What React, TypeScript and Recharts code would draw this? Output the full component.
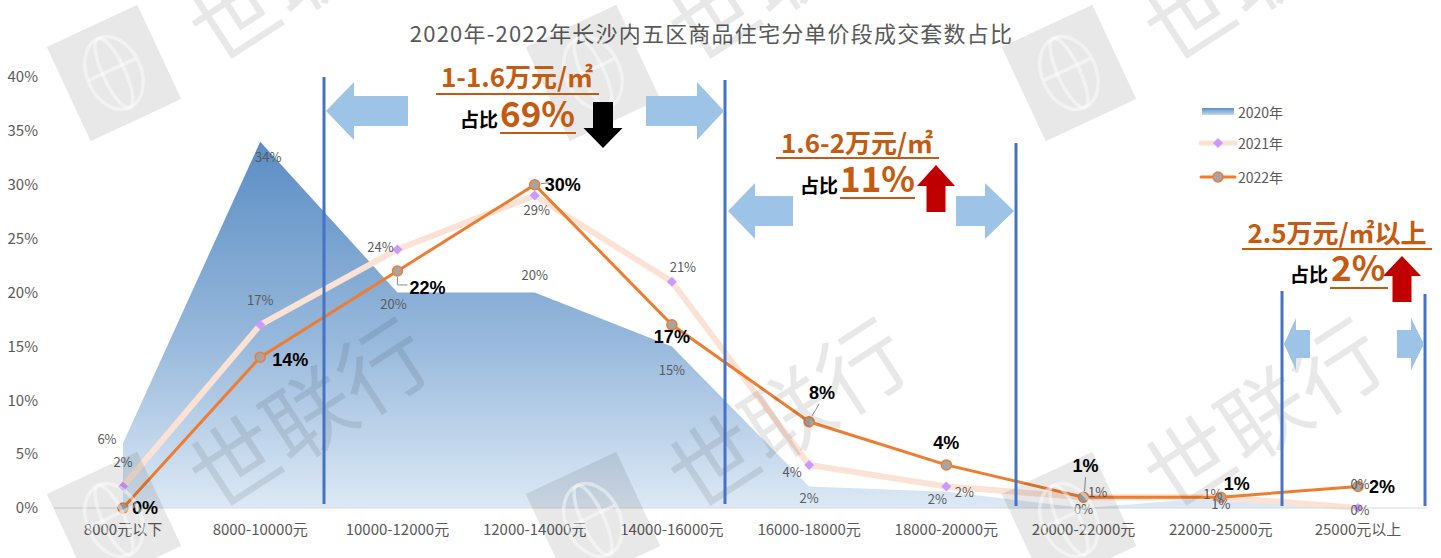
import React from "react";
import { ComposedChart, Area, Line, XAxis, YAxis, LabelList } from "recharts";

const categories = [
  "8000元以下",
  "8000-10000元",
  "10000-12000元",
  "12000-14000元",
  "14000-16000元",
  "16000-18000元",
  "18000-20000元",
  "20000-22000元",
  "22000-25000元",
  "25000元以上",
];
const share2020 = [6, 34, 20, 20, 15, 2, 1.5, 0, 1, 0];
const share2021 = [2, 17, 24, 29, 21, 4, 2, 1, 1, 0];
const share2022 = [0, 14, 22, 30, 17, 8, 4, 1, 1, 2];
const yTicks = [0, 5, 10, 15, 20, 25, 30, 35, 40];

const data = categories.map((name, i) => ({
  name,
  y2020: share2020[i],
  y2021: share2021[i],
  y2022: share2022[i],
}));

const CJK = '"Noto Sans CJK SC", "Noto Sans", sans-serif';
const NARROW = '"Liberation Sans Narrow", "Liberation Sans", Arial, sans-serif';
const ORANGE_TXT = "#c55a11";
const ARROW_BLUE = "#9dc3e6";
const LINE_BLUE = "#4472c4";
const WM = "rgba(0,0,0,0.09)";

// label offsets per point (dx, dy from the point)
const off2020 = [[-16, -5], [8, 15], [-4, 11], [0, -18], [0, 23], [0, 11], [-9, 7], [0, 0], [0, 6], [2, -25]];
const off2021 = [[0, -25], [0, -25], [-17, -3], [2, 14], [11, -15], [-17, 7], [18, 5], [14, -6], [-8, -4], [2, 1]];
const off2022 = [[22, 0], [30, 3], [30, 17], [28, 0], [0, 12], [13, -29], [0, -22], [2, -31], [16, -13], [24, 1]];
// small leader lines for some 2022 labels (relative to the point)
const leaders2022: Record<number, string> = {
  2: "0,6 0,14 10,14",
  3: "6,-1 14,-2",
  5: "3,-6 10,-18",
  7: "1,-6 2,-20",
};

const makeLabel = (offs: number[][], bold: boolean, leaders?: Record<number, string>) => (props: any) => {
  const { x, y, value, index } = props;
  const [dx, dy] = offs[index] || [0, 0];
  const lead = leaders && leaders[index];
  return (
    <g>
      {lead && (
        <polyline
          points={lead
            .split(" ")
            .map((p) => {
              const [a, b] = p.split(",").map(Number);
              return `${x + a},${y + b}`;
            })
            .join(" ")}
          fill="none"
          stroke="#8c8c8c"
          strokeWidth={1}
        />
      )}
      <text
        x={x + dx}
        y={y + dy}
        textAnchor="middle"
        dominantBaseline="central"
        fontFamily={bold ? NARROW : CJK}
        fontWeight={bold ? 700 : 400}
        fontSize={bold ? 18 : 13}
        fill={bold ? "#000" : "#595959"}
      >
        {`${Math.round(value)}%`}
      </text>
    </g>
  );
};

const Diamond = (props: any) => {
  const { cx, cy } = props;
  if (cx == null || cy == null) return null;
  return <polygon points={`${cx},${cy - 5} ${cx + 5},${cy} ${cx},${cy + 5} ${cx - 5},${cy}`} fill="#cc99ff" />;
};

const hArrow = (tipX: number, baseX: number, endX: number, cy: number, headH: number, shaftH: number) =>
  `${tipX},${cy} ${baseX},${cy - headH / 2} ${baseX},${cy - shaftH / 2} ${endX},${cy - shaftH / 2} ${endX},${cy + shaftH / 2} ${baseX},${cy + shaftH / 2} ${baseX},${cy + headH / 2}`;

const vArrow = (cx: number, tipY: number, baseY: number, endY: number, headW: number, shaftW: number) =>
  `${cx},${tipY} ${cx + headW / 2},${baseY} ${cx + shaftW / 2},${baseY} ${cx + shaftW / 2},${endY} ${cx - shaftW / 2},${endY} ${cx - shaftW / 2},${baseY} ${cx - headW / 2},${baseY}`;

function Watermarks() {
  const cols = [114, 593, 1069];
  const rows = [73, 520];
  const marks: JSX.Element[] = [];
  rows.forEach((ry, r) =>
    cols.forEach((cx, c) => {
      marks.push(
        <g key={`l${r}${c}`} transform={`translate(${cx},${ry}) rotate(-25)`}>
          <rect x={-50} y={-52} width={100} height={104} fill={WM} />
          <ellipse cx={0} cy={0} rx={27} ry={38} fill="none" stroke="rgba(255,255,255,0.45)" strokeWidth={3.5} />
          <ellipse cx={0} cy={0} rx={11} ry={38} fill="none" stroke="rgba(255,255,255,0.45)" strokeWidth={3.5} />
          <line x1={-26} y1={-4} x2={26} y2={-4} stroke="rgba(255,255,255,0.45)" strokeWidth={3.5} />
        </g>
      );
      const tx = cx + 192;
      const ty = ry - 110;
      marks.push(
        <text
          key={`w${r}${c}`}
          x={tx}
          y={ty}
          transform={`rotate(-33 ${tx} ${ty})`}
          textAnchor="middle"
          dominantBaseline="central"
          fontFamily={CJK}
          fontSize={88}
          fill={WM}
        >
          世联行
        </text>
      );
    })
  );
  return (
    <svg width={1441} height={558} style={{ position: "absolute", left: 0, top: 0, pointerEvents: "none" }}>
      {marks}
    </svg>
  );
}

function Annotations() {
  return (
    <svg width={1441} height={558} style={{ position: "absolute", left: 0, top: 0, pointerEvents: "none" }}>
      {/* vertical divider lines */}
      <line x1={324} y1={77} x2={324} y2={504} stroke={LINE_BLUE} strokeWidth={3} />
      <line x1={725} y1={80} x2={725} y2={504} stroke={LINE_BLUE} strokeWidth={3} />
      <line x1={1016} y1={143} x2={1016} y2={506} stroke={LINE_BLUE} strokeWidth={3} />
      <line x1={1282} y1={291} x2={1282} y2={506} stroke={LINE_BLUE} strokeWidth={3} />
      <line x1={1425} y1={294} x2={1425} y2={506} stroke={LINE_BLUE} strokeWidth={3} />

      {/* blue block arrows */}
      <polygon points={hArrow(326, 354, 408, 111, 58, 30)} fill={ARROW_BLUE} />
      <polygon points={hArrow(724, 697, 646, 111, 58, 30)} fill={ARROW_BLUE} />
      <polygon points={hArrow(728, 755, 793, 211, 56, 30)} fill={ARROW_BLUE} />
      <polygon points={hArrow(1014, 985, 956, 211, 56, 30)} fill={ARROW_BLUE} />
      <polygon points={hArrow(1284, 1296, 1310, 344, 52, 28)} fill={ARROW_BLUE} />
      <polygon points={hArrow(1424, 1411, 1397, 344, 52, 28)} fill={ARROW_BLUE} />

      {/* black / red arrows */}
      <polygon points={vArrow(603, 148, 128, 102, 39, 20)} fill="#000" />
      <polygon points={vArrow(936, 165, 186, 212, 38, 19)} fill="#c00000" />
      <polygon points={vArrow(1402, 256, 276, 302, 38, 19)} fill="#c00000" />

      {/* group 1 */}
      <text x={517} y={87} textAnchor="middle" fontFamily={CJK} fontWeight={700} fontSize={26} fill={ORANGE_TXT}>
        1-1.6万元/㎡
      </text>
      <line x1={436} y1={94} x2={599} y2={94} stroke={ORANGE_TXT} strokeWidth={2} />
      <text x={460} y={127} fontFamily={CJK} fontWeight={700} fontSize={19} fill="#000">
        占比
      </text>
      <text x={500} y={127} fontFamily={CJK} fontWeight={700} fontSize={35} fill={ORANGE_TXT}>
        69%
      </text>
      <line x1={500} y1={133} x2={576} y2={133} stroke={ORANGE_TXT} strokeWidth={2} />

      {/* group 2 */}
      <text x={857} y={153} textAnchor="middle" fontFamily={CJK} fontWeight={700} fontSize={26} fill={ORANGE_TXT}>
        1.6-2万元/㎡
      </text>
      <line x1={776} y1={158} x2={939} y2={158} stroke={ORANGE_TXT} strokeWidth={2} />
      <text x={800} y={193} fontFamily={CJK} fontWeight={700} fontSize={19} fill="#000">
        占比
      </text>
      <text x={840} y={192} fontFamily={CJK} fontWeight={700} fontSize={35} fill={ORANGE_TXT}>
        11%
      </text>
      <line x1={840} y1={198} x2={915} y2={198} stroke={ORANGE_TXT} strokeWidth={2} />

      {/* group 3 */}
      <text x={1337} y={243} textAnchor="middle" fontFamily={CJK} fontWeight={700} fontSize={26} fill={ORANGE_TXT}>
        2.5万元/㎡以上
      </text>
      <line x1={1242} y1={249} x2={1432} y2={249} stroke={ORANGE_TXT} strokeWidth={2} />
      <text x={1290} y={282} fontFamily={CJK} fontWeight={700} fontSize={19} fill="#000">
        占比
      </text>
      <text x={1331} y={281} fontFamily={CJK} fontWeight={700} fontSize={35} fill={ORANGE_TXT}>
        2%
      </text>
      <line x1={1330} y1={288} x2={1388} y2={288} stroke={ORANGE_TXT} strokeWidth={2} />

      {/* legend */}
      <defs>
        <linearGradient id="legGrad" x1="0" y1="0" x2="0" y2="1">
          <stop offset="0%" stopColor="#5b8ec4" />
          <stop offset="100%" stopColor="#c5daee" />
        </linearGradient>
      </defs>
      <rect x={1202} y={108} width={32} height={7} fill="url(#legGrad)" />
      <text x={1238} y={112} dominantBaseline="central" fontFamily={CJK} fontSize={14} fill="#595959">
        2020年
      </text>
      <line x1={1201} y1={143} x2={1235} y2={143} stroke="#fbe2d4" strokeWidth={5} strokeLinecap="round" />
      <polygon points="1218,138 1223,143 1218,148 1213,143" fill="#cc99ff" />
      <text x={1238} y={143} dominantBaseline="central" fontFamily={CJK} fontSize={14} fill="#595959">
        2021年
      </text>
      <line x1={1201} y1={177} x2={1235} y2={177} stroke="#ed7d31" strokeWidth={3} strokeLinecap="round" />
      <circle cx={1218} cy={177} r={5} fill="#a5a5a5" stroke="#ed7d31" strokeWidth={1.5} />
      <text x={1238} y={177} dominantBaseline="central" fontFamily={CJK} fontSize={14} fill="#595959">
        2022年
      </text>
    </svg>
  );
}

export default function App() {
  return (
    <div style={{ position: "relative", width: 1441, height: 558, background: "#fff", overflow: "hidden" }}>
      <style>{`body{margin:0;}`}</style>
      <div
        style={{
          position: "absolute",
          top: 16,
          left: -9,
          width: 1441,
          textAlign: "center",
          fontFamily: CJK,
          fontSize: 22,
          letterSpacing: 1.2,
          lineHeight: "32px",
          color: "#595959",
        }}
      >
        2020年-2022年长沙内五区商品住宅分单价段成交套数占比
      </div>
      <ComposedChart width={1441} height={558} data={data} margin={{ top: 77, right: 14, left: 0, bottom: 20 }}>
        <defs>
          <linearGradient id="area2020" x1="0" y1="0" x2="0" y2="1">
            <stop offset="0%" stopColor="#5a8dc3" />
            <stop offset="55%" stopColor="#98b9dc" />
            <stop offset="100%" stopColor="#dde9f5" />
          </linearGradient>
        </defs>
        <XAxis
          dataKey="name"
          height={30}
          padding={{ left: 69, right: 69 }}
          axisLine={{ stroke: "#d9d9d9" }}
          tickLine={false}
          tick={{ fill: "#595959", fontSize: 15, fontFamily: CJK }}
          interval={0}
          tickMargin={10}
        />
        <YAxis
          width={54}
          domain={[0, 40]}
          ticks={yTicks}
          axisLine={false}
          tickLine={false}
          tickFormatter={(v) => `${v}%`}
          tick={{ fill: "#595959", fontSize: 15, fontFamily: CJK }}
          tickMargin={10}
        />
        <Area
          type="linear"
          dataKey="y2020"
          stroke="none"
          fill="url(#area2020)"
          fillOpacity={1}
          isAnimationActive={false}
        >
          <LabelList dataKey="y2020" content={makeLabel(off2020, false)} />
        </Area>
        <Line
          type="linear"
          dataKey="y2021"
          stroke="#fbe2d4"
          strokeWidth={6}
          dot={<Diamond />}
          isAnimationActive={false}
        >
          <LabelList dataKey="y2021" content={makeLabel(off2021, false)} />
        </Line>
        <Line
          type="linear"
          dataKey="y2022"
          stroke="#ed7d31"
          strokeWidth={3}
          dot={{ r: 5, fill: "#a5a5a5", stroke: "#ed7d31", strokeWidth: 1.5 }}
          isAnimationActive={false}
        >
          <LabelList dataKey="y2022" content={makeLabel(off2022, true, leaders2022)} />
        </Line>
      </ComposedChart>
      <Watermarks />
      <Annotations />
    </div>
  );
}
